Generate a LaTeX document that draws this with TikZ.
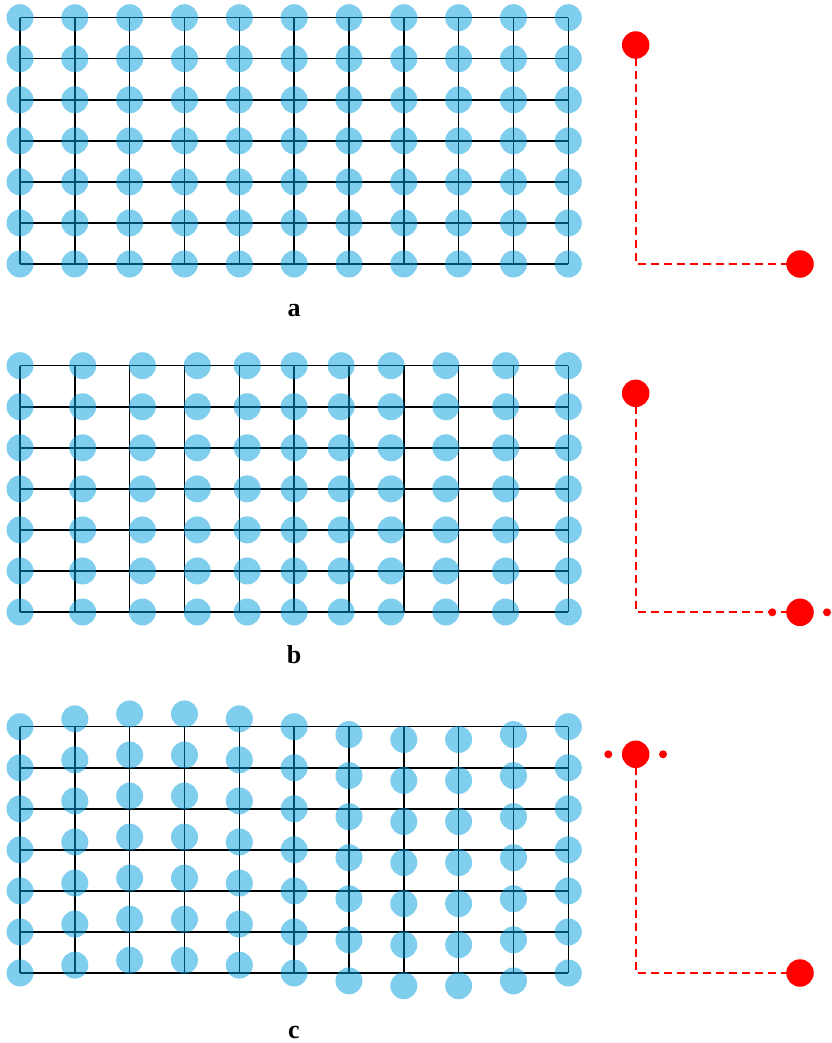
\documentclass[tikz,border=0pt]{standalone}
\usepackage{fontspec}
\setmainfont{Liberation Serif}
\definecolor{atomblue}{RGB}{0,157,221}
\definecolor{probered}{RGB}{255,0,0}
\begin{document}
\begin{tikzpicture}[x=1pt,y=-1pt,
  gridline/.style={draw=black,line width=1.5pt},
  atom/.style={circle,inner sep=0pt,minimum size=27pt,draw=none,fill=atomblue,fill opacity=0.5},
  bigred/.style={circle,inner sep=0pt,minimum size=27.5pt,draw=none,fill=probered},
  smallred/.style={circle,inner sep=0pt,minimum size=8pt,draw=none,fill=probered},
  link/.style={draw=probered,line width=1.7pt,dash pattern=on 8pt off 5pt},
  panellabel/.style={anchor=base,inner sep=0pt,font=\fontsize{26}{28}\selectfont\bfseries}]
\useasboundingbox (0,0) rectangle (831,1043);
\def\gx{54.83}
\def\gy{41.05}
\def\amp{13.4}

% lattice grids (drawn first, atoms sit semi-transparent on top)
\foreach \top in {17.7,365.7,726.7}{
  \foreach \i in {0,...,10}
    \draw[gridline] (20+\i*\gx,\top) -- (20+\i*\gx,\top+6*\gy);
  \foreach \j in {0,...,6}
    \draw[gridline] (20,\top+\j*\gy) -- (20+10*\gx,\top+\j*\gy);
}

% a: atoms at rest
\foreach \i in {0,...,10}
  \foreach \j in {0,...,6}
    \node[atom] (a-\i-\j) at (20+\i*\gx,17.7+\j*\gy) {};

% b: longitudinal displacement
\foreach \i in {0,...,10}
  \foreach \j in {0,...,6}
    \node[atom] (b-\i-\j) at ({20+\i*\gx+\amp*sin(36*\i)},365.7+\j*\gy) {};

% c: transverse displacement
\foreach \i in {0,...,10}
  \foreach \j in {0,...,6}
    \node[atom] (c-\i-\j) at (20+\i*\gx,{726.7+\j*\gy-\amp*sin(36*\i)}) {};

% red probe pairs
\coordinate (ka) at (635.7,264);
\coordinate (kb) at (635.7,612.3);
\coordinate (kc) at (635.7,973);

\draw[link] (635.7,45) -- (ka) -- (800,264);
\node[bigred] (ta) at (635.7,45) {};
\node[bigred] (ra) at (800,264) {};

\draw[link] (635.7,393.3) -- (kb) -- (800,612.3);
\node[bigred] (tb) at (635.7,393.3) {};
\node[bigred] (rb) at (800,612.3) {};
\node[smallred] (rbl) at (772.3,612.3) {};
\node[smallred] (rbr) at (827,612.3) {};

\draw[link] (635.7,754.3) -- (kc) -- (800,973);
\node[bigred] (tc) at (635.7,754.3) {};
\node[bigred] (rc) at (800,973) {};
\node[smallred] (tcl) at (608.3,754.3) {};
\node[smallred] (tcr) at (663,754.3) {};

% panel labels
\node[panellabel] (la) at (294,316) {a};
\node[panellabel] (lb) at (294,663.5) {b};
\node[panellabel] (lc) at (294,1038) {c};
\end{tikzpicture}
\end{document}
